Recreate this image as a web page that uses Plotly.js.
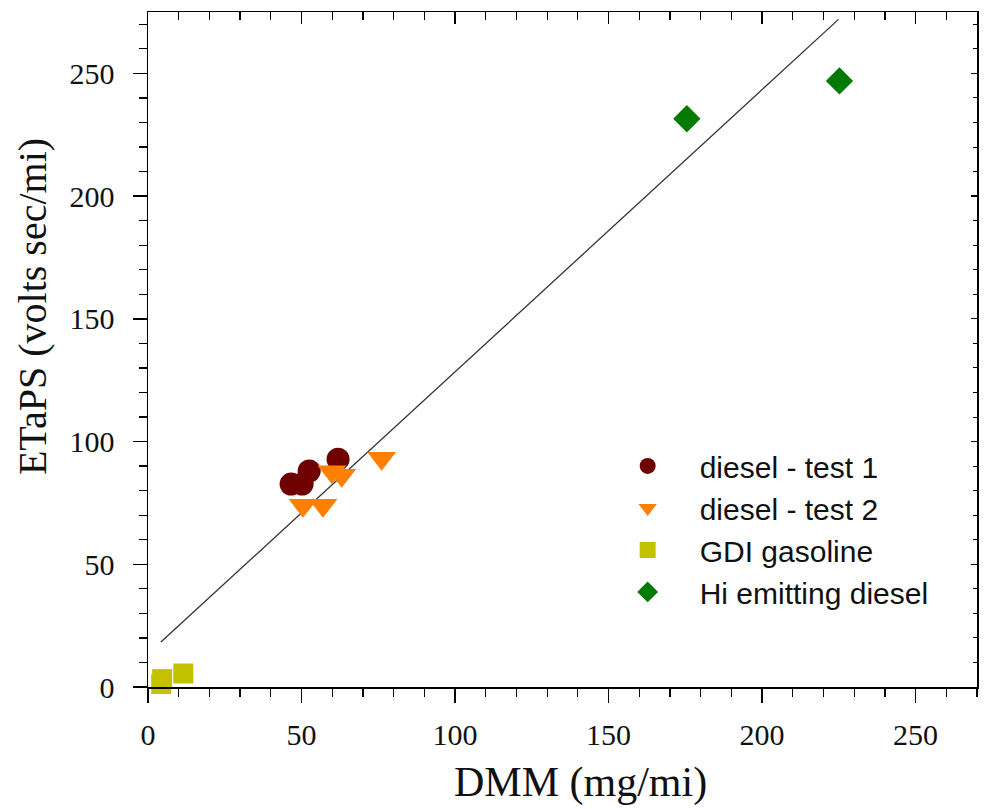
<!DOCTYPE html>
<html>
<head>
<meta charset="utf-8">
<script src="https://cdn.plot.ly/plotly-3.0.1.min.js"></script>
<style>html,body{margin:0;padding:0;background:#fff;}#chart{width:989px;height:809px;}</style>
</head>
<body>
<div id="chart"></div>
<script>
// Data
var test1X = [46.6, 50.2, 52.5, 61.9];
var test1Y = [82.7, 82.7, 88.0, 92.8];
var test2X = [50.5, 57.0, 59.9, 63.1, 76.1];
var test2Y = [74.0, 74.0, 87.7, 86.3, 93.2];
var gdiX = [4.3, 4.6, 11.5];
var gdiY = [1.2, 3.2, 5.5];
var hiX = [175.5, 225.2];
var hiY = [231.5, 246.9];
var fitX = [4.2, 224.9];
var fitY = [18.3, 272.0];
var names = ['diesel - test 1', 'diesel - test 2', 'GDI gasoline', 'Hi emitting diesel'];
var xTitle = 'DMM (mg/mi)';
var yTitle = 'ETaPS (volts sec/mi)';

var serif = 'Liberation Serif, Times New Roman, serif';
var sans = 'Liberation Sans, Arial, sans-serif';

var traces = [
  {x: fitX, y: fitY, mode: 'lines', line: {color: '#333', width: 1.3}, showlegend: false, hoverinfo: 'skip'},
  {x: test1X, y: test1Y, mode: 'markers', name: names[0], cliponaxis: false,
   marker: {symbol: 'circle', size: 23, color: '#6e0000'}},
  {x: test2X, y: test2Y, mode: 'markers', name: names[1], cliponaxis: false,
   marker: {symbol: 'triangle-down', size: 25, color: '#ff7f00'}},
  {x: gdiX, y: gdiY, mode: 'markers', name: names[2], cliponaxis: false,
   marker: {symbol: 'square', size: 20, color: '#c4c200'}},
  {x: hiX, y: hiY, mode: 'markers', name: names[3], cliponaxis: false,
   marker: {symbol: 'diamond', size: 21, color: '#007a00'}},
  {x: [], y: [], xaxis: 'x2', yaxis: 'y2', showlegend: false, hoverinfo: 'skip', mode: 'markers'}
];

var layout = {
  width: 989, height: 809,
  margin: {l: 148, r: 12, t: 12, b: 122},
  paper_bgcolor: '#fff', plot_bgcolor: '#fff',
  showlegend: true,
  legend: {x: 0.540, y: 0.366, xanchor: 'left', yanchor: 'top', bgcolor: 'rgba(0,0,0,0)',
           font: {family: sans, size: 30, color: '#111'}, itemwidth: 94, tracegroupgap: 0},
  xaxis: {
    range: [0, 270], showgrid: false, zeroline: false, showline: true, linecolor: '#000', linewidth: 1.5,
    ticks: 'outside', ticklen: 14, tickwidth: 1.5, tickcolor: '#000', dtick: 50, tick0: 0,
    minor: {dtick: 10, ticks: 'outside', ticklen: 8, tickwidth: 1.3, tickcolor: '#000', showgrid: false},
    tickfont: {family: serif, size: 30, color: '#111'}, ticklabelstandoff: 6
  },
  yaxis: {
    range: [0, 275], showgrid: false, zeroline: false, showline: true, linecolor: '#000', linewidth: 1.5,
    ticks: 'outside', ticklen: 14, tickwidth: 1.5, tickcolor: '#000', dtick: 50, tick0: 0,
    minor: {dtick: 10, ticks: 'outside', ticklen: 8, tickwidth: 1.3, tickcolor: '#000', showgrid: false},
    tickfont: {family: serif, size: 30, color: '#111'}, ticklabelstandoff: 12
  },
  xaxis2: {
    overlaying: 'x', side: 'top', anchor: 'y2', range: [0, 270], showgrid: false, zeroline: false,
    showline: true, linecolor: '#000', linewidth: 1.5, showticklabels: false,
    ticks: 'inside', ticklen: 12, tickwidth: 1.5, tickcolor: '#000', dtick: 50, tick0: 0,
    minor: {dtick: 10, ticks: 'inside', ticklen: 8, tickwidth: 1.3, tickcolor: '#000', showgrid: false}
  },
  yaxis2: {
    overlaying: 'y', side: 'right', anchor: 'x2', range: [0, 275], showgrid: false, zeroline: false,
    showline: true, linecolor: '#000', linewidth: 1.5, showticklabels: false,
    ticks: 'inside', ticklen: 6, tickwidth: 1.3, tickcolor: '#000', dtick: 50, tick0: 0,
    minor: {dtick: 10, ticks: 'inside', ticklen: 4, tickwidth: 1, tickcolor: '#000', showgrid: false}
  },
  annotations: [
    {text: xTitle, xref: 'paper', yref: 'paper', x: 0.522, y: -0.141, xanchor: 'center', yanchor: 'middle',
     showarrow: false, font: {family: serif, size: 42, color: '#111'}},
    {text: yTitle, xref: 'paper', yref: 'paper', x: -0.139, y: 0.564, xanchor: 'center', yanchor: 'middle',
     textangle: -90, showarrow: false, font: {family: serif, size: 40, color: '#111'}}
  ]
};

Plotly.newPlot('chart', traces, layout, {displayModeBar: false, staticPlot: true});
</script>
</body>
</html>
